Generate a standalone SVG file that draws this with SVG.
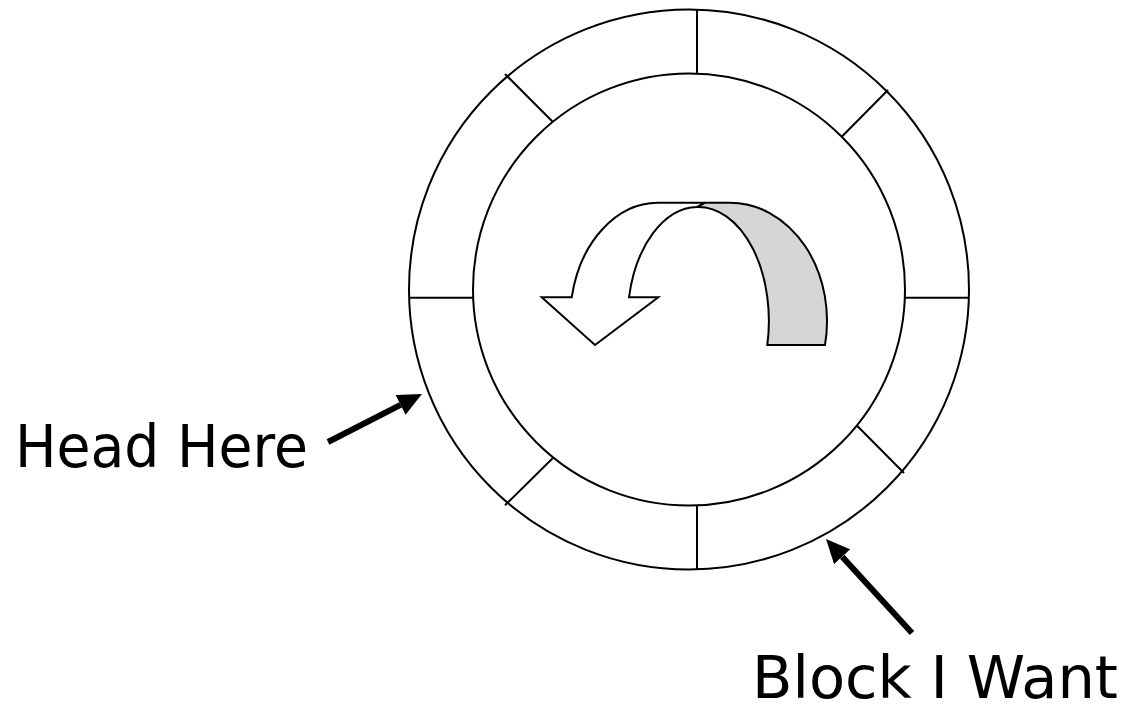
<svg xmlns="http://www.w3.org/2000/svg" width="1130" height="711" viewBox="0 0 1130 711">
<defs>
<style>
.ring{fill:none;stroke:#000;stroke-width:2}
.div{stroke:#000;stroke-width:2;fill:none}
.shape{stroke:#000;stroke-width:2;stroke-linejoin:miter}
.ptr{stroke:#000;stroke-width:6;fill:none}
.lbl{font-family:"DejaVu Sans","Liberation Sans",sans-serif;font-size:59px;fill:#000}
</style>
<marker id="ah" viewBox="0 -11 24 22" refX="0" refY="0" markerWidth="24" markerHeight="22" markerUnits="userSpaceOnUse" orient="auto">
<path d="M0,-11 L24,0 L0,11 Z" fill="#000"/>
</marker>
</defs>
<rect width="1130" height="711" fill="#fff"/>
<g id="disk">
<circle class="ring" cx="689" cy="289.5" r="280"/>
<circle class="ring" cx="689" cy="289.5" r="216"/>
<line class="div" x1="697" y1="10" x2="697" y2="74"/>
<line class="div" x1="697" y1="505" x2="697" y2="569"/>
<line class="div" x1="409" y1="297.7" x2="473.5" y2="297.7"/>
<line class="div" x1="905" y1="297.7" x2="969" y2="297.7"/>
<line class="div" x1="505" y1="74" x2="552.7" y2="121.7"/>
<line class="div" x1="888" y1="90" x2="841.7" y2="136.7"/>
<line class="div" x1="552.7" y1="458.3" x2="505" y2="505.3"/>
<line class="div" x1="857.3" y1="426" x2="904" y2="473"/>
</g>
<g id="uturn">
<path class="shape" fill="#d6d6d6" d="M697,207 L705,202.7 L730,202.7 A97 118.3 0 0 1 825,345 L767.3,345 A70.6 114 0 0 0 697,207 Z"/>
<path class="shape" fill="#fff" d="M571.7,297.3 L541.7,297.3 L595,345 L658.3,297.3 L629,297.3 A70.6 114 0 0 1 697,207 L705,202.7 L658.3,202.7 A88 118 0 0 0 571.7,297.3 Z"/>
</g>
<g id="connectors">
<line class="ptr" x1="328" y1="442" x2="400.6" y2="404.9" marker-end="url(#ah)"/>
<line class="ptr" x1="912" y1="633" x2="842.2" y2="556.7" marker-end="url(#ah)"/>
</g>
<g id="label-head">
<text class="lbl" x="15" y="467" textLength="293" lengthAdjust="spacingAndGlyphs">Head Here</text>
</g>
<g id="label-block">
<text class="lbl" x="752" y="698" textLength="366" lengthAdjust="spacingAndGlyphs">Block I Want</text>
</g>
</svg>
